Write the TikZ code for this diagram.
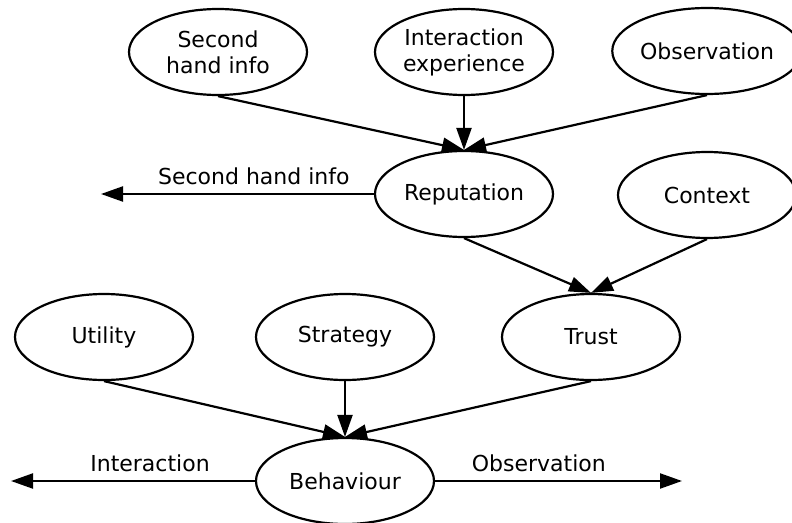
\documentclass[tikz,border=0pt]{standalone}
\usepackage{fontspec}
\setmainfont{DejaVu Sans}
\usetikzlibrary{shapes.geometric,arrows.meta}
\begin{document}
\begin{tikzpicture}[x=1pt,y=-1pt,
  concept/.style={draw,ellipse,line width=2.2pt,minimum width=178pt,minimum height=86pt,
    inner sep=0pt,align=center,font=\fontsize{22}{26}\selectfont},
  flow/.style={line width=2.2pt,-{Triangle[length=22pt,width=15pt]}},
  flowlabel/.style={inner sep=0pt,font=\fontsize{22}{26}\selectfont}]
\useasboundingbox (0,0) rectangle (792,522);

% sources of reputation
\node[concept] (shi) at (218,52) {Second\\hand info};
\node[concept] (iex) at (464,52) {Interaction\\experience};
\node[concept] (obs) at (707,51) {Observation};

% reputation and context
\node[concept] (rep) at (464,194) {Reputation};
\node[concept] (ctx) at (707,195) {Context};

% decision inputs
\node[concept] (uti) at (104,337) {Utility};
\node[concept] (str) at (345,337) {Strategy};
\node[concept] (tru) at (591,337) {Trust};

% resulting behaviour
\node[concept] (beh) at (345,481) {Behaviour};

% free ends of the outgoing arrows
\coordinate (shiout) at (101,194);
\coordinate (intout) at (11,481);
\coordinate (obsout) at (682,481);

\draw[flow] (shi.south) -- (rep.north);
\draw[flow] (iex.south) -- (rep.north);
\draw[flow] (obs.south) -- (rep.north);

\draw[flow] (rep.south) -- (tru.north);
\draw[flow] (ctx.south) -- (tru.north);

\draw[flow] (uti.south) -- (beh.north);
\draw[flow] (str.south) -- (beh.north);
\draw[flow] (tru.south) -- (beh.north);

\draw[flow] (rep.west) -- node[flowlabel,pos=0.44,above=8pt] {Second hand info} (shiout);
\draw[flow] (beh.west) -- node[flowlabel,pos=0.43,above=8pt] {Interaction} (intout);
\draw[flow] (beh.east) -- node[flowlabel,pos=0.42,above=8pt] {Observation} (obsout);
\end{tikzpicture}
\end{document}
